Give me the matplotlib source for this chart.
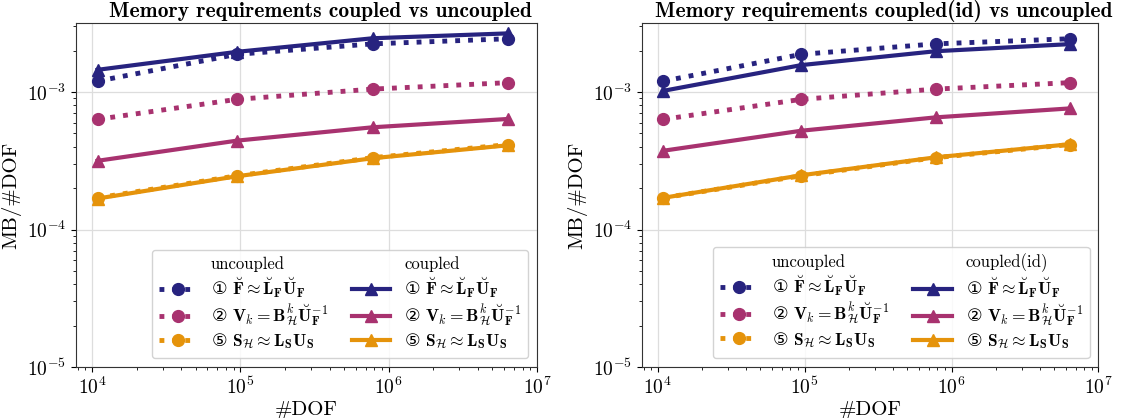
import matplotlib
matplotlib.use('Agg')
import matplotlib.pyplot as plt
from matplotlib.lines import Line2D

plt.rcParams['font.family'] = ['cmr10', 'DejaVu Sans']
plt.rcParams['mathtext.fontset'] = 'cm'
plt.rcParams['axes.formatter.use_mathtext'] = True
plt.rcParams['axes.unicode_minus'] = False

dof = [1.09e4, 9.5e4, 7.8e5, 6.4e6]

# uncoupled (same in both panels)
unc_F = [1.20e-3, 1.88e-3, 2.24e-3, 2.44e-3]
unc_V = [6.33e-4, 8.85e-4, 1.05e-3, 1.17e-3]
unc_S = [1.70e-4, 2.46e-4, 3.33e-4, 4.15e-4]

# coupled (left panel)
cpl_F = [1.45e-3, 1.96e-3, 2.46e-3, 2.67e-3]
cpl_V = [3.16e-4, 4.43e-4, 5.54e-4, 6.37e-4]
cpl_S = [1.68e-4, 2.44e-4, 3.30e-4, 4.10e-4]

# coupled(id) (right panel)
cid_F = [1.02e-3, 1.57e-3, 1.98e-3, 2.23e-3]
cid_V = [3.74e-4, 5.23e-4, 6.54e-4, 7.60e-4]
cid_S = [1.70e-4, 2.48e-4, 3.35e-4, 4.17e-4]

labels = [
    r'① $\breve{\mathbf{F}} \approx \breve{\mathbf{L}}_{\mathbf{F}}\breve{\mathbf{U}}_{\mathbf{F}}$',
    r'② $\mathbf{V}_k = \mathbf{B}^k_{\mathcal{H}}\breve{\mathbf{U}}_{\mathbf{F}}^{-1}$',
    r'⑤ $\mathbf{S}_{\mathcal{H}} \approx \mathbf{L}_{\mathbf{S}}\mathbf{U}_{\mathbf{S}}$',
]
colors = ['#27237f', '#a8326f', '#e5930b']

titles = ['Memory requirements coupled vs uncoupled',
          'Memory requirements coupled(id) vs uncoupled']
coupled_names = ['coupled', 'coupled(id)']
coupled_sets = [[cpl_F, cpl_V, cpl_S], [cid_F, cid_V, cid_S]]
uncoupled_set = [unc_F, unc_V, unc_S]

fig = plt.figure(figsize=(11.32, 4.18), dpi=100)
positions = [[0.0671, 0.122, 0.4073, 0.823], [0.5671, 0.122, 0.4032, 0.823]]

for i in range(2):
    ax = fig.add_axes(positions[i])
    h_unc = [Line2D([], [], linestyle='none', label='uncoupled')]
    h_cpl = [Line2D([], [], linestyle='none', label=coupled_names[i])]
    for k in range(3):
        l1, = ax.plot(dof, uncoupled_set[k], linestyle=':', marker='o', color=colors[k],
                      linewidth=3.5, markersize=8.5, label=labels[k])
        h_unc.append(l1)
    for k in range(3):
        l2, = ax.plot(dof, coupled_sets[i][k], linestyle='-', marker='^', color=colors[k],
                      linewidth=3, markersize=9, label=labels[k])
        h_cpl.append(l2)
    ax.set_xscale('log')
    ax.set_yscale('log')
    ax.set_xlim(10**3.892, 1e7)
    ax.set_ylim(1e-5, 10**-2.498)
    ax.grid(True, which='major', color='#dddddd', linewidth=0.9)
    ax.set_axisbelow(True)
    ax.tick_params(labelsize=14)
    ax.set_xlabel('#DOF', fontsize=15, labelpad=2)
    ax.set_ylabel('MB/#DOF', fontsize=15)
    ax.set_title(titles[i], fontsize=15.5, fontfamily='cmb10', pad=4, x=0.53)
    for s in ax.spines.values():
        s.set_color('#333333')
    leg = ax.legend(handles=h_unc + h_cpl, ncol=2, loc='lower right',
                    prop={'family': 'DejaVu Sans', 'size': 12.5},
                    columnspacing=1.4, handlelength=2.2, labelspacing=0.18,
                    edgecolor='#cccccc', framealpha=0.85)
    for t in leg.get_texts():
        if '$' not in t.get_text():
            t.set_fontfamily('cmr10')
            t.set_fontsize(12)

fig.savefig('out.png', dpi=100)
